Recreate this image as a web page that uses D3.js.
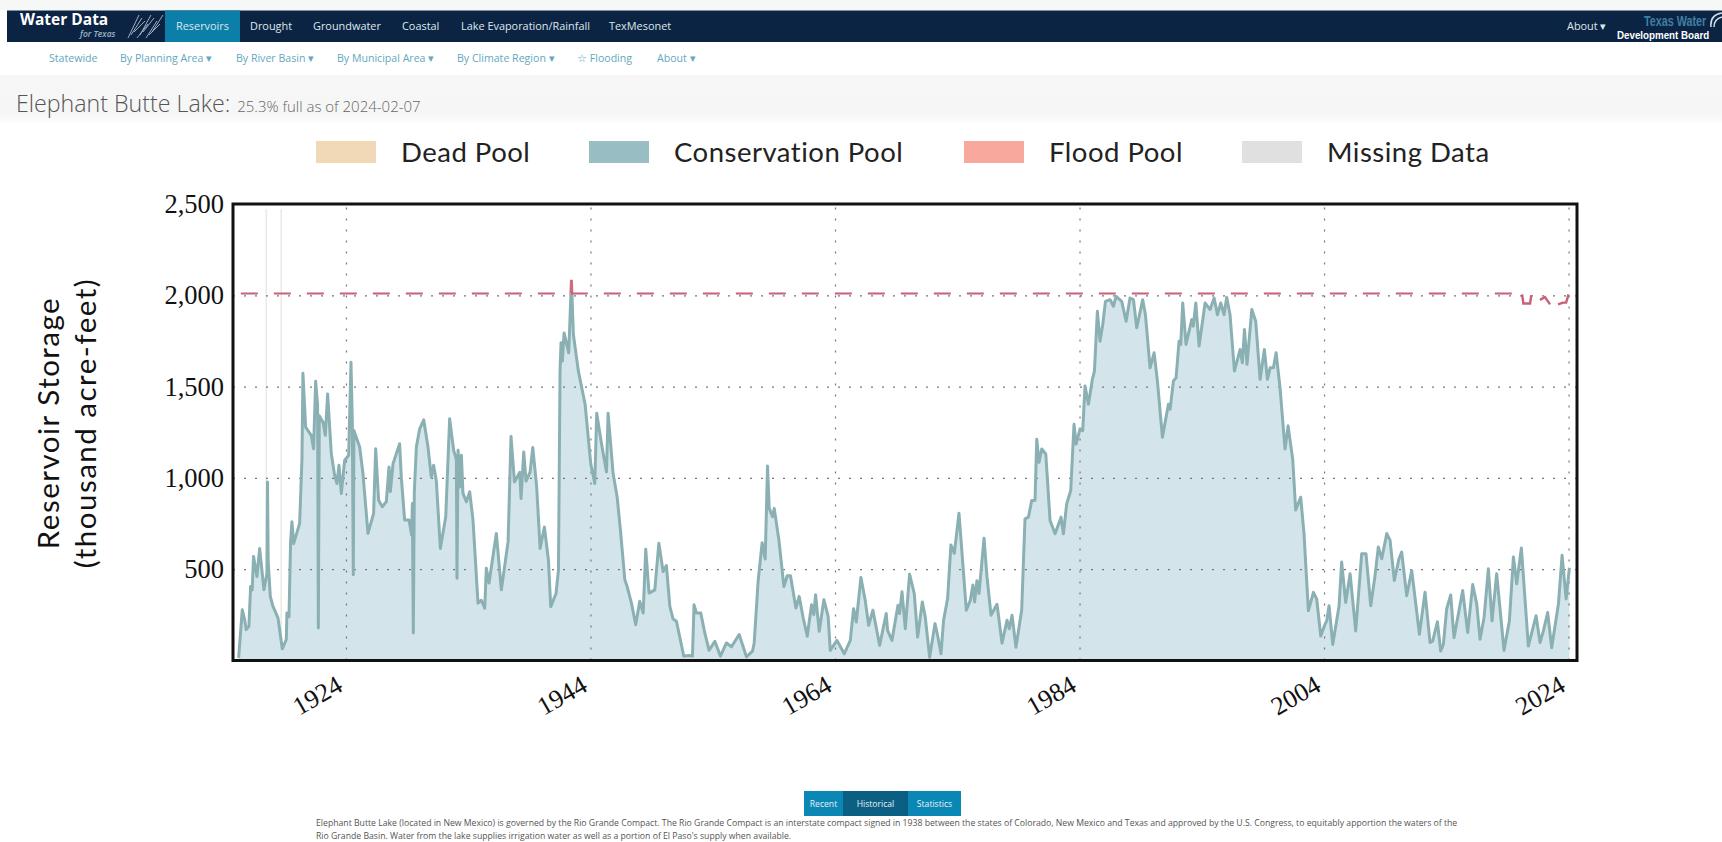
<!DOCTYPE html>
<html><head><meta charset="utf-8">
<script src="https://cdn.jsdelivr.net/npm/d3@7"></script>
<style>
html,body{margin:0;padding:0;background:#fff;overflow:hidden}
svg{display:block}
.nav{font-family:"Open Sans";font-size:10.9px;fill:#dfe7ec}
.sub{font-family:"Open Sans";font-size:10.6px;fill:#62a9bc}
</style></head><body>
<svg id="c" width="1722" height="842"></svg>
<script>
const storageYears=[1915.22,1915.52,1915.71,1915.84,1916.06,1916.20,1916.33,1916.44,1916.72,1916.94,1917.29,1917.54,1917.58,1917.64,1917.81,1918.03,1918.44,1918.79,1919.12,1919.17,1919.34,1919.47,1919.58,1919.72,1920.21,1920.40,1920.48,1920.70,1921.16,1921.35,1921.52,1921.68,1921.74,1921.82,1922.12,1922.31,1922.50,1922.80,1923.07,1923.26,1923.43,1923.62,1923.89,1924.22,1924.41,1924.52,1924.60,1924.65,1925.12,1925.39,1925.80,1926.26,1926.43,1926.67,1926.97,1927.30,1927.52,1927.63,1927.85,1928.12,1928.39,1928.53,1928.80,1929.16,1929.37,1929.43,1929.51,1929.59,1929.76,1930.03,1930.36,1930.71,1930.98,1931.17,1931.39,1931.72,1932.16,1932.48,1932.81,1933.03,1933.08,1933.17,1933.30,1933.44,1933.57,1933.85,1934.12,1934.39,1934.80,1935.07,1935.35,1935.48,1935.70,1936.30,1936.71,1937.26,1937.50,1937.78,1938.21,1938.32,1938.54,1938.73,1939.06,1939.28,1939.60,1939.88,1940.23,1940.56,1940.75,1941.18,1941.38,1941.51,1941.59,1941.70,1941.84,1942.22,1942.44,1942.60,1943.01,1943.56,1944.02,1944.35,1944.51,1944.90,1945.31,1945.44,1945.85,1946.18,1946.45,1946.81,1947.00,1947.35,1947.70,1948.03,1948.31,1948.52,1948.79,1949.26,1949.59,1949.94,1950.21,1950.49,1950.76,1951.03,1951.63,1952.12,1952.34,1952.47,1952.66,1953.02,1953.35,1953.70,1954.17,1954.63,1955.12,1955.53,1956.16,1956.76,1957.25,1957.39,1957.71,1958.04,1958.29,1958.48,1958.62,1958.89,1959.03,1959.41,1959.82,1960.09,1960.36,1960.80,1961.07,1961.40,1961.73,1962.08,1962.27,1962.41,1962.71,1963.09,1963.44,1963.61,1964.16,1964.76,1965.25,1965.52,1965.74,1966.12,1966.47,1966.75,1967.10,1967.65,1968.19,1968.30,1968.66,1969.15,1969.28,1969.48,1969.75,1970.10,1970.48,1970.76,1971.14,1971.38,1971.74,1972.18,1972.39,1972.67,1972.88,1973.21,1973.48,1973.76,1974.14,1974.41,1974.74,1975.07,1975.28,1975.42,1975.61,1975.78,1976.19,1976.43,1976.76,1977.25,1977.66,1978.07,1978.26,1978.48,1978.80,1979.27,1979.54,1979.82,1980.09,1980.36,1980.50,1980.69,1980.91,1981.24,1981.59,1982.00,1982.49,1982.68,1982.95,1983.28,1983.55,1983.72,1984.04,1984.26,1984.45,1984.73,1985.05,1985.22,1985.46,1985.68,1985.90,1986.12,1986.50,1986.77,1986.99,1987.45,1987.81,1988.13,1988.41,1988.68,1989.17,1989.39,1989.77,1990.10,1990.37,1990.78,1991.27,1991.41,1991.68,1991.90,1992.14,1992.28,1992.44,1992.71,1993.18,1993.31,1993.51,1993.78,1994.27,1994.68,1995.01,1995.28,1995.55,1995.82,1996.04,1996.31,1996.67,1997.13,1997.32,1997.49,1997.70,1998.09,1998.41,1998.77,1999.12,1999.37,1999.59,1999.86,2000.08,2000.40,2000.81,2001.06,2001.44,2001.68,2002.09,2002.36,2002.72,2003.13,2003.40,2003.73,2004.08,2004.22,2004.41,2004.71,2005.23,2005.44,2005.77,2006.13,2006.59,2007.08,2007.43,2007.82,2008.17,2008.44,2008.72,2009.13,2009.40,2009.75,2010.13,2010.35,2010.76,2011.17,2011.44,2011.80,2012.26,2012.67,2012.89,2013.27,2013.54,2013.76,2014.03,2014.36,2014.63,2015.34,2015.75,2016.16,2016.49,2016.76,2017.09,2017.44,2017.74,2018.12,2018.72,2019.16,2019.49,2019.76,2020.14,2020.71,2021.34,2021.67,2021.94,2022.29,2022.62,2023.17,2023.47,2023.80,2024.07];
const storageValues=[15,278,224,169,187,405,387,569,460,614,387,478,978,540,351,296,233,64,115,260,240,651,760,640,751,1100,1573,1278,1233,1160,1529,1400,178,1340,1305,1233,1460,1133,1015,969,1069,914,1096,1124,1633,1300,469,1260,1169,1024,696,805,1160,878,842,869,1060,925,1078,1133,1187,1000,769,769,687,860,151,924,1170,1269,1318,1169,1005,1069,985,614,787,1324,1151,1100,451,1151,950,1124,915,869,924,769,314,330,287,505,424,696,387,651,1227,978,1030,887,1142,982,1031,1167,949,613,731,549,295,367,495,1585,1740,1640,1794,1685,2085,1785,1585,1403,1078,969,1354,1187,1033,1354,1024,896,714,442,405,314,196,324,260,609,369,387,642,487,520,296,227,215,24,27,24,305,260,260,151,56,105,24,96,75,142,20,51,96,433,645,556,1065,833,787,833,660,405,464,464,287,351,233,133,305,251,360,160,333,242,55,110,37,110,284,211,455,330,193,275,83,257,165,110,303,257,376,174,473,367,128,321,239,18,202,138,37,220,339,633,587,807,569,275,330,413,321,437,367,670,459,248,308,95,220,174,248,73,276,776,785,876,876,1212,1085,1158,1131,767,694,785,694,858,931,1294,1185,1267,1258,1503,1403,1540,1585,1912,1749,1840,1967,1976,1940,1994,1967,1858,1985,1976,1822,1976,1894,1603,1685,1531,1222,1403,1376,1531,1549,1749,1731,1958,1731,1867,1831,1958,1722,1958,1922,1985,1894,1958,1894,1989,1894,1585,1703,1631,1813,1622,1922,1858,1540,1703,1540,1603,1603,1685,1494,1158,1285,1100,824,894,695,272,373,337,134,199,217,300,88,300,539,318,475,162,585,585,300,465,622,557,695,659,438,557,594,355,493,346,144,374,98,107,212,52,88,282,359,125,383,153,416,309,116,236,502,217,475,55,217,567,420,616,79,245,98,162,263,70,309,576,337,508];
const capacityYears=[1915.4,2019.4];
const capacityValues=[2010,2010];
const recentCapacityYears=[2020.2,2020.3,2020.85,2020.95,2021.3,2021.66,2022.07,2022.48,2022.8,2023.14,2023.55,2023.8,2024.0];
const recentCapacityValues=[2005,1955,1955,2000,null,1975,1990,1950,null,1950,1960,1960,2005];
const missingStart=[1917.42,1918.64];
const missingEnd=[1917.54,1918.76];
const xTicks=[1924,1944,1964,1984,2004,2024];
const yTicks=[500,1000,1500,2000,2500];
const legendLabels=["Dead Pool","Conservation Pool","Flood Pool","Missing Data"];
const legendColors=["#f1d9b8","#98bec3","#f9a89e","#e0e0e0"];
const navLabels=["Reservoirs","Drought","Groundwater","Coastal","Lake Evaporation/Rainfall","TexMesonet"];
const subLabels=["Statewide","By Planning Area ▾","By River Basin ▾","By Municipal Area ▾","By Climate Region ▾","☆ Flooding","About ▾"];
const tabLabels=["Recent","Historical","Statistics"];

const svg=d3.select("#c");
// page chrome
const bandGrad=svg.append("defs").append("linearGradient").attr("id","band").attr("x1",0).attr("x2",0).attr("y1",0).attr("y2",1);
bandGrad.append("stop").attr("offset",0).attr("stop-color","#f7f7f7");
bandGrad.append("stop").attr("offset",.75).attr("stop-color","#f6f6f6");
bandGrad.append("stop").attr("offset",1).attr("stop-color","#fcfcfc");
svg.append("rect").attr("width",1722).attr("height",10).attr("fill","#f6f7f7");
svg.append("rect").attr("x",0).attr("y",75).attr("width",1722).attr("height",48).attr("fill","url(#band)");
svg.append("rect").attr("x",7).attr("y",10.5).attr("width",1715).attr("height",31.5).attr("fill","#0c2444");
svg.append("rect").attr("x",165).attr("y",10.5).attr("width",75).attr("height",31.5).attr("fill","#0b7fa8");
svg.append("text").attr("x",20).attr("y",25).attr("font-family","'Open Sans'").attr("font-weight",700).attr("font-size",15.5).attr("fill","#fff").text("Water Data");
svg.append("text").attr("x",80).attr("y",37).attr("font-family","'Open Sans'").attr("font-style","italic").attr("font-weight",600).attr("font-size",8.5).attr("fill","#9fb4c6").text("for Texas");
const hatch=svg.append("g").attr("stroke","#aebccb").attr("stroke-width",.9);
[0,3,6,9,12,15,18,21,24].forEach(d=>hatch.append("line").attr("x1",128+d).attr("y1",38-(d%9)).attr("x2",139+d).attr("y2",15+(d%12)));
const navX=[176,250,313,402,461,609];
svg.selectAll(".navi").data(navLabels).join("text").attr("class","nav").attr("x",(d,i)=>navX[i]).attr("y",30).text(d=>d);
svg.append("text").attr("class","nav").attr("x",1567).attr("y",30).text("About ▾");
svg.append("text").attr("transform","translate(1644,26) scale(0.72,1)").attr("font-family","'Liberation Sans'").attr("font-weight",700).attr("font-size",15).attr("fill","#3f7fa3").text("Texas Water");
svg.append("text").attr("transform","translate(1617,39) scale(0.85,1)").attr("font-family","'Liberation Sans'").attr("font-weight",700).attr("font-size",11.5).attr("fill","#fff").text("Development Board");
svg.append("path").attr("d","M1711 27C1710 18 1715 14 1722 13M1714 27C1714 21 1718 18 1722 17").attr("fill","none").attr("stroke","#cfe2ee").attr("stroke-width",1.5);
const subX=[49,120,236,337,457,577,657];
svg.selectAll(".subi").data(subLabels).join("text").attr("class","sub").attr("x",(d,i)=>subX[i]).attr("y",62).text(d=>d);
const title=svg.append("text").attr("x",16).attr("y",112).attr("font-family","'Open Sans'").attr("font-weight",300).attr("fill","#555");
title.append("tspan").attr("font-size",23.2).text("Elephant Butte Lake:");
title.append("tspan").attr("font-size",15).attr("dx",7).attr("fill","#666").text("25.3% full as of 2024-02-07");

// legend
const legX=[316,589,964,1242], legT=[401,674,1049,1327];
const serif="'Liberation Serif'", human="Lato";
legendLabels.forEach((d,i)=>{
  svg.append("rect").attr("x",legX[i]).attr("y",141).attr("width",60).attr("height",22).attr("fill",legendColors[i]);
  svg.append("text").attr("x",legT[i]).attr("y",162).attr("font-family",human).attr("font-size",27.5).attr("letter-spacing",.5).attr("fill","#222").text(d);
});

// chart
const L=233,R=1577,T=204,B=660.5;
const x=d3.scaleLinear().domain([1914.76,2024.69]).range([L,R]);
const y=d3.scaleLinear().domain([0,2500]).range([B,T]);
const pts=storageYears.map((t,i)=>[t,storageValues[i]]);
const cap=capacityYears.map((t,i)=>[t,capacityValues[i]]);
const recentCap=recentCapacityYears.map((t,i)=>[t,recentCapacityValues[i]]);
const defs=svg.append("defs");
defs.append("clipPath").attr("id","below").append("rect").attr("x",L).attr("y",y(2010)).attr("width",R-L).attr("height",B-y(2010));
defs.append("clipPath").attr("id","above").append("rect").attr("x",L).attr("y",T).attr("width",R-L).attr("height",y(2010)-T);
const line=d3.line().defined(d=>d[1]!==null).x(d=>x(d[0])).y(d=>y(d[1]));
const area=d3.area().x(d=>x(d[0])).y0(y(0)).y1(d=>y(d[1]));
missingStart.forEach((s,i)=>svg.append("rect").attr("x",x(s)).attr("y",T+5).attr("width",x(missingEnd[i])-x(s)).attr("height",B-T-5).attr("fill","#ebe8e6"));
svg.append("path").datum(pts).attr("d",area).attr("fill","#d3e5ea");
svg.append("path").datum(pts).attr("d",area).attr("fill","#f7b9b0").attr("clip-path","url(#above)");

const gridY=d3.axisLeft(y).tickValues(yTicks.slice(0,4)).tickSize(-(R-L)).tickFormat("");
const gy=svg.append("g").attr("transform",`translate(${L},0)`).call(gridY);
gy.select(".domain").remove();
gy.selectAll("line").attr("stroke","#777").attr("stroke-width",1.2).attr("stroke-dasharray","2 9");
const gridX=d3.axisBottom(x).tickValues(xTicks).tickSize(-(B-T)).tickFormat("");
const gx=svg.append("g").attr("transform",`translate(0,${B})`).call(gridX);
gx.select(".domain").remove();
gx.selectAll("line").attr("stroke","#777").attr("stroke-width",1.2).attr("stroke-dasharray","2 9");

svg.append("path").datum(pts).attr("d",line).attr("fill","none").attr("stroke","#8ab0b3").attr("stroke-width",3).attr("stroke-linejoin","round").attr("clip-path","url(#below)");
svg.append("path").datum(pts).attr("d",line).attr("fill","none").attr("stroke","#cf6d80").attr("stroke-width",3).attr("clip-path","url(#above)");
svg.append("path").datum(cap).attr("d",line).attr("fill","none").attr("stroke","#c9607a").attr("stroke-width",2).attr("stroke-dasharray","17 16");
svg.append("path").datum(recentCap).attr("d",line).attr("fill","none").attr("stroke","#c9607a").attr("stroke-width",2.4);

svg.append("rect").attr("x",L).attr("y",T).attr("width",R-L).attr("height",B-T).attr("fill","none").attr("stroke","#111").attr("stroke-width",3);

// axes labels
const ay=svg.append("g").attr("transform",`translate(${L},0)`).call(d3.axisLeft(y).tickValues(yTicks).tickSize(0).tickPadding(9).tickFormat(d3.format(",")));
ay.select(".domain").remove();
ay.selectAll("text").attr("font-family",serif).attr("font-size",26.5).attr("fill","#111");
const ax=svg.append("g").attr("transform",`translate(0,${B})`).call(d3.axisBottom(x).tickValues(xTicks).tickSize(0).tickFormat(d3.format("d")));
ax.select(".domain").remove();
ax.selectAll("text").attr("font-family",serif).attr("font-size",26).attr("fill","#111").attr("text-anchor","end")
  .attr("transform","translate(-14,9) rotate(-30)").attr("dy","0.8em");
const yt=svg.append("text").attr("transform","translate(59,423) rotate(-90)").attr("text-anchor","middle").attr("font-family",human).attr("font-size",29.5).attr("letter-spacing",1.5).attr("fill","#111");
yt.append("tspan").attr("x",0).attr("dy",0).text("Reservoir Storage");
yt.append("tspan").attr("x",0).attr("dy",37).text("(thousand acre-feet)");

// tabs and footer
const tabX=[804,843,908], tabW=[39,65,53];
tabLabels.forEach((d,i)=>{
  svg.append("rect").attr("x",tabX[i]).attr("y",791).attr("width",tabW[i]).attr("height",25).attr("fill",i==1?"#0b5f82":"#0a87b4");
  svg.append("text").attr("x",tabX[i]+tabW[i]/2).attr("y",807).attr("text-anchor","middle").attr("font-family","'Open Sans'").attr("font-size",8.6).attr("fill","#e8f2f6").text(d);
});
const foot=["Elephant Butte Lake (located in New Mexico) is governed by the Rio Grande Compact. The Rio Grande Compact is an interstate compact signed in 1938 between the states of Colorado, New Mexico and Texas and approved by the U.S. Congress, to equitably apportion the waters of the","Rio Grande Basin. Water from the lake supplies irrigation water as well as a portion of El Paso's supply when available."];
foot.forEach((d,i)=>svg.append("text").attr("x",316).attr("y",826+i*12.5).attr("font-family","'Open Sans'").attr("font-size",8.68).attr("fill","#555").text(d));
</script></body></html>
